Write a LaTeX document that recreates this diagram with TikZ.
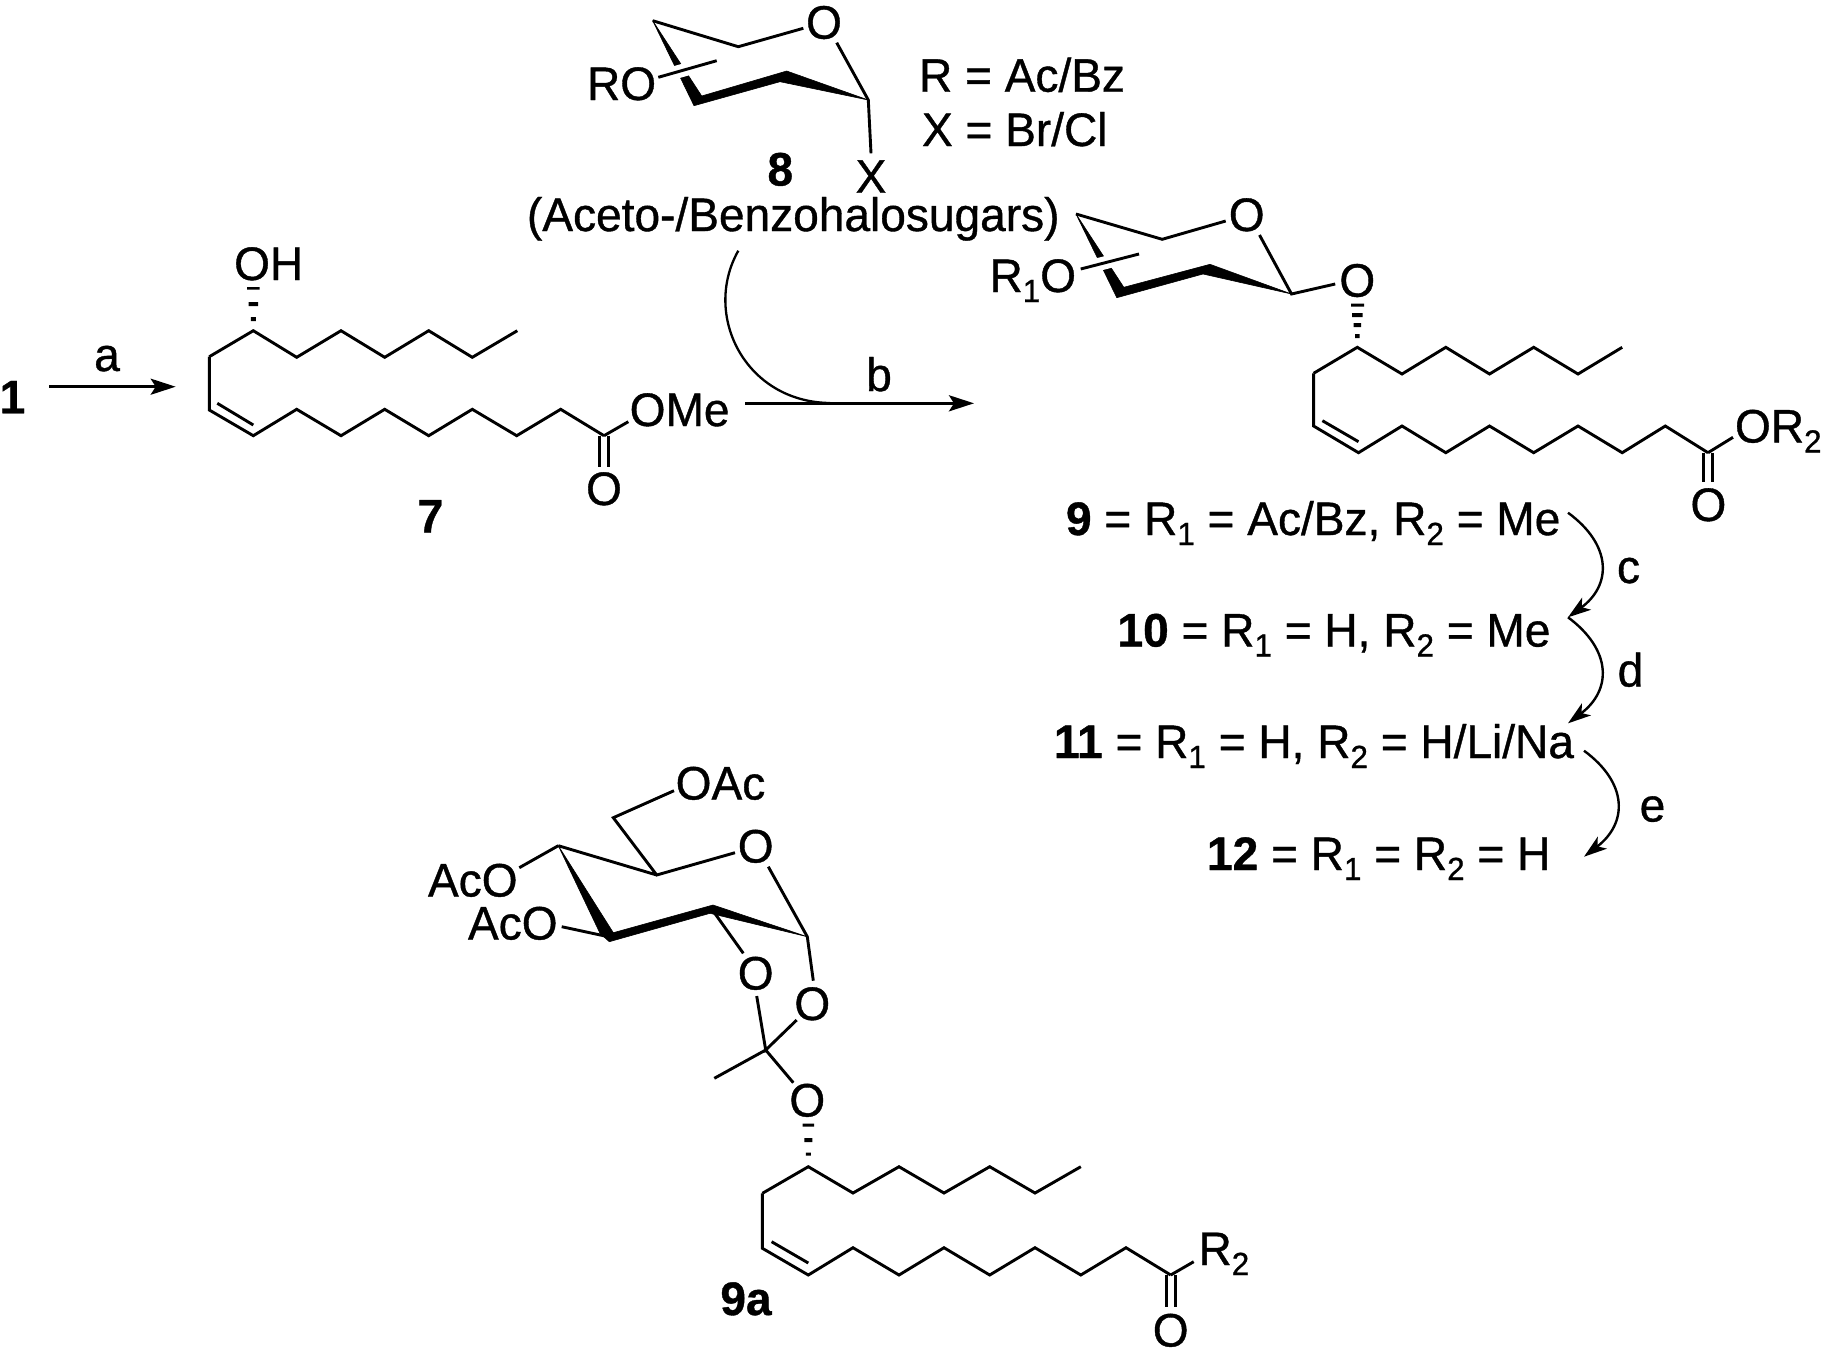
\documentclass[tikz,border=0pt]{standalone}
\usepackage{fontspec}
\setmainfont[FakeStretch=0.98,FakeBold=0.8]{Liberation Sans}
\usetikzlibrary{arrows.meta}
\newcommand\subs[1]{\raisebox{-10pt}{\fontsize{32}{32}\selectfont #1}}
\tikzset{
 bond/.style={line width=2.9pt,line join=miter,line cap=butt},
 wedgefill/.style={fill=black,draw=black,line width=0.6pt,line join=round},
 gapline/.style={white,line width=13pt},
 lab/.style={inner sep=0pt,outer sep=0pt,font=\fontsize{47}{47}\selectfont},
 atom/.style={lab,anchor=base},
 txt/.style={lab,anchor=base west},
 boldlab/.style={atom,font=\fontsize{47}{47}\selectfont\bfseries},
 rxn/.style={line width=2.8pt,-{Stealth[length=25pt,width=16pt,inset=5pt]}},
 curve/.style={line width=2.4pt,-{Stealth[length=23pt,width=15pt,inset=6pt]}},
 plain/.style={line width=2.3pt},
}
\begin{document}
\begin{tikzpicture}[x=1pt,y=-1pt]
\useasboundingbox (0,0) rectangle (1826,1353);

%% ---------- Compound 7 ----------
\node[atom] (oh7) at (268.7,280) {OH};
\foreach[count=\i] \x/\y in {209.3/356.7,253.3/330.7,296.7/357.3,341/330.7,384.7/357.3,428.7/330.7,472.3/357.3,517.3/330.7}{\coordinate (ga\i) at (\x,\y);}
\foreach[count=\i] \x/\y in {209.3/410,253.3/435.7,296.7/409.3,341/435.7,384.7/409.3,428.7/435.7,472.3/409.3,516.7/435.7,560.7/409.3,604/435.7}{\coordinate (gb\i) at (\x,\y);}
\draw[bond] (ga1)\foreach \i in {2,...,8}{--(ga\i)};
\draw[bond] (ga1)--(gb1)\foreach \i in {2,...,10}{--(gb\i)};
\coordinate (ga7i) at (217.3,403.3); \coordinate (gb7i) at (253.3,425);
\draw[bond] (ga7i)--(gb7i);
\fill (247,287) rectangle (259.5,289.5) (248.5,302) rectangle (258,306) (250.8,317) rectangle (255.8,321);
\node[txt] (ome7) at (629.7,426) {OMe};
\coordinate (ome7e) at (628.3,421.7);
\draw[bond] (gb10)--(ome7e);
\node[atom] (o7) at (604,505) {O};
\draw[bond] ([xshift=-4.5pt]gb10)--++(0,31) ([xshift=4.5pt]gb10)--++(0,31);
\node[boldlab] (n7) at (430.5,532.5) {7};

%% ---------- step a ----------
\node[boldlab] (n1) at (12.5,413.3) {1};
\node[atom] (la) at (107,371) {a};
\coordinate (aS) at (49.3,386.7);
\coordinate (aE) at (175.7,386.7);
\draw[rxn] (aS)--(aE);

%% ---------- Sugar 8 ----------
\node[atom] (o8) at (824,38.7) {O};
\node[txt] (ro8) at (587,100) {RO};
\node[atom] (x8) at (871,192.7) {X};
\node[boldlab] (n8) at (780.3,185.5) {8};
\node[txt] (r8) at (919,91.7) {R = Ac/Bz};
\node[txt] (x8t) at (922,146) {X = Br/Cl};
\node[txt] (acb) at (527,231) {(Aceto-/Benzohalosugars)};
\coordinate (s8a) at (652.7,20.7); \coordinate (s8b) at (738.3,46.7); \coordinate (s8c) at (803.3,28.3);
\coordinate (s8d) at (836.7,42.7); \coordinate (s8e) at (868.3,100); \coordinate (s8f) at (871,153.3);
\coordinate (s8l1) at (658.3,77.3); \coordinate (s8l2) at (716.7,60.7);
\draw[bond] (s8a)--(s8b)--(s8c) (s8d)--(s8e)--(s8f);
\fill[wedgefill] (s8a)--(694,105.7)--(780,81.7)--(s8e)--(786.7,71)--(701.7,96)--cycle;
\draw[gapline] (s8l1)--(s8l2);
\draw[bond] (s8l1)--(s8l2);

%% ---------- step b ----------
\coordinate (bS) at (745,403.3); \coordinate (bE) at (974,403.3);
\coordinate (bA) at (738.3,250.7); \coordinate (bJ) at (830,403);
\draw[rxn] (bS)--(bE);
\draw[plain] (bA) .. controls (702,315) and (745,402) .. (bJ);
\node[atom] (lb) at (879,391) {b};

%% ---------- Compound 9 ----------
\node[atom] (o9r) at (1246.7,231) {O};
\node[txt] (r1o) at (989.5,292) {R\subs{1}O};
\node[atom] (o9g) at (1357.3,296.7) {O};
\coordinate (s9a) at (1076,214); \coordinate (s9b) at (1162.2,239.3); \coordinate (s9c) at (1225.7,221);
\coordinate (s9d) at (1259.5,235); \coordinate (s9e) at (1291.5,294); \coordinate (s9f) at (1335.2,284);
\coordinate (s9l1) at (1080.7,269); \coordinate (s9l2) at (1139,254);
\draw[bond] (s9a)--(s9b)--(s9c) (s9d)--(s9e)--(s9f);
\fill[wedgefill] (s9a)--(1116.8,297.7)--(1203,274)--(s9e)--(1210,264.3)--(1123.8,287.3)--cycle;
\draw[gapline] (s9l1)--(s9l2);
\draw[bond] (s9l1)--(s9l2);
\fill (1351,303.5) rectangle (1364,306.5) (1352,313) rectangle (1362.5,317) (1353.5,323) rectangle (1361,327) (1355,334) rectangle (1359.5,338);
\foreach[count=\i] \x/\y in {1313.6/373.3,1357.3/347.3,1402/374,1445.8/347.3,1489.5/374,1533.7/347.3,1578/374,1622.2/347.3}{\coordinate (pa\i) at (\x,\y);}
\foreach[count=\i] \x/\y in {1313.6/426,1358.5/452.7,1402/426,1445.8/452.7,1489.5/426,1533.7/452.7,1578/426,1622.2/452.7,1665.3/426,1708/452.7}{\coordinate (pb\i) at (\x,\y);}
\draw[bond] (pa1)\foreach \i in {2,...,8}{--(pa\i)};
\draw[bond] (pa1)--(pb1)\foreach \i in {2,...,10}{--(pb\i)};
\coordinate (p9i) at (1322.4,420.7); \coordinate (p9j) at (1358.5,441.7);
\draw[bond] (p9i)--(p9j);
\coordinate (or9e) at (1733,437.3);
\draw[bond] (pb10)--(or9e);
\node[txt] (or9) at (1735,442.5) {OR\subs{2}};
\node[atom] (o9k) at (1708.4,521) {O};
\draw[bond] ([xshift=-4.3pt]pb10)--++(0,29) ([xshift=4.3pt]pb10)--++(0,29);

%% ---------- Derivative list ----------
\node[txt] (t9) at (1066,535) {\textbf{9} = R\subs{1} = Ac/Bz, R\subs{2} = Me};
\node[txt] (t10) at (1117.5,646.5) {\textbf{10} = R\subs{1} = H, R\subs{2} = Me};
\node[txt] (t11) at (1054,758) {\textbf{11} = R\subs{1} = H, R\subs{2} = H/Li/Na};
\node[txt] (t12) at (1207,870) {\textbf{12} = R\subs{1} = R\subs{2} = H};
\coordinate (c1) at (1568,512.7); \coordinate (c2) at (1568,617.3); \coordinate (c3) at (1568,723.3);
\coordinate (e1) at (1584,750.7); \coordinate (e2) at (1584,856.7);
\draw[curve] (c1) .. controls (1612,545) and (1612,585) .. (c2);
\draw[curve] (c2) .. controls (1612,650) and (1612,690) .. (c3);
\draw[curve] (e1) .. controls (1628,783) and (1628,823) .. (e2);
\node[atom] (lc) at (1628.5,583) {c};
\node[atom] (ld) at (1630.5,686.5) {d};
\node[atom] (le) at (1652.5,821.5) {e};

%% ---------- Compound 9a ----------
\node[txt] (oac) at (675.7,799.5) {OAc};
\node[txt] (aco1) at (428,896.5) {AcO};
\node[txt] (aco2) at (468,939.5) {AcO};
\node[atom] (oring) at (755.7,862.5) {O};
\node[atom] (ok1) at (755.7,989.5) {O};
\node[atom] (ok2) at (812.3,1020) {O};
\node[atom] (ok3) at (807.3,1116.5) {O};
\coordinate (ch2) at (613.3,817.7); \coordinate (oace) at (674,790.7);
\coordinate (c5) at (656.7,875); \coordinate (oringa) at (735,852.7); \coordinate (oringb) at (768.3,866.7);
\coordinate (c1s) at (807.3,936.7); \coordinate (c4) at (558.3,845.7); \coordinate (acoe1) at (519.3,867.7);
\coordinate (c3s) at (608.3,936.7); \coordinate (acoe2) at (561.7,926.7);
\coordinate (c2s) at (711.7,909); \coordinate (k1a) at (743.3,953.3);
\coordinate (k1b) at (756.7,996); \coordinate (ket) at (765.7,1050);
\coordinate (k2a) at (813.3,980.7); \coordinate (k2b) at (796.7,1020);
\coordinate (me) at (714.3,1078.3); \coordinate (k3a) at (793.3,1082.7);
\draw[bond] (oace)--(ch2)--(c5)--(oringa) (oringb)--(c1s)--(k2a) (c4)--(c5);
\draw[bond] (acoe1)--(c4) (acoe2)--(c3s) (c2s)--(k1a) (k1b)--(ket)--(k2b) (me)--(ket)--(k3a);
\fill[wedgefill] (c4)--(600,933.3)--(609.3,941.7)--(710,913.3)--(c1s)--(713,905)--(613.3,932.7)--cycle;
\fill (802.5,1123.5) rectangle (814,1126.5) (804.3,1138) rectangle (812.3,1142) (805.8,1152.5) rectangle (810.8,1155.5);
\foreach[count=\i] \x/\y in {762.4/1193.3,808.3/1166.7,853/1193,899/1166.7,944/1193,989.7/1166.7,1035/1193,1080.8/1166.7}{\coordinate (qa\i) at (\x,\y);}
\foreach[count=\i] \x/\y in {762.4/1248.3,808.3/1275,853/1247.7,899/1275,944/1247.7,989.7/1275,1035/1247.7,1080.8/1275,1126/1247.7,1170.7/1275}{\coordinate (qb\i) at (\x,\y);}
\draw[bond] (qa1)\foreach \i in {2,...,8}{--(qa\i)};
\draw[bond] (qa1)--(qb1)\foreach \i in {2,...,10}{--(qb\i)};
\coordinate (qi) at (771.6,1241.7); \coordinate (qj) at (808.3,1263);
\draw[bond] (qi)--(qj);
\coordinate (r2e) at (1193.7,1261.7);
\draw[bond] (qb10)--(r2e);
\node[txt] (r2) at (1198.5,1265) {R\subs{2}};
\node[atom] (oq) at (1170.7,1346.5) {O};
\draw[bond] ([xshift=-4.6pt]qb10)--++(0,31.5) ([xshift=4.6pt]qb10)--++(0,31.5);
\node[boldlab] (n9a) at (746,1315) {9a};
\end{tikzpicture}
\end{document}
